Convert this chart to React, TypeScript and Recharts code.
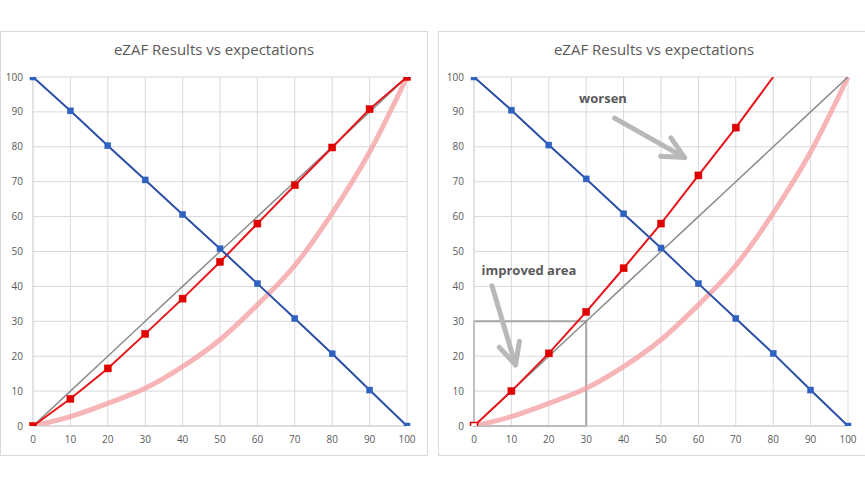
import React from "react"
import {
  LineChart,
  Line,
  XAxis,
  YAxis,
  CartesianGrid,
  ReferenceArea,
  ReferenceLine,
  ReferenceDot,
} from "recharts"

// x positions shared by every series
const X_VALUES = [0, 10, 20, 30, 40, 50, 60, 70, 80, 90, 100]
const X_TICKS = [0, 10, 20, 30, 40, 50, 60, 70, 80, 90, 100]
const Y_TICKS = [0, 10, 20, 30, 40, 50, 60, 70, 80, 90, 100]

// expected (identity) line and the expectation curve, same in both panels
const EXPECTED = [0, 10, 20, 30, 40, 50, 60, 70, 80, 90, 100]
const CURVE = [0, 2.7, 6.5, 10.8, 17, 24.7, 34.7, 46, 61, 78.5, 100]

// left panel
const BLUE_LEFT = [100, 90.3, 80.3, 70.5, 60.6, 50.8, 40.8, 30.8, 20.7, 10.3, 0]
const RED_LEFT = [0, 7.8, 16.5, 26.4, 36.5, 47, 58, 69, 79.8, 90.8, 100]

// right panel
const BLUE_RIGHT = [100, 90.5, 80.5, 70.8, 60.8, 51, 40.8, 30.8, 20.8, 10.3, 0]
const RED_RIGHT = [0, 10, 20.8, 32.7, 45.2, 58, 71.8, 85.5, 100, null, null]

const TITLE = "eZAF Results vs expectations"

const FONT = "'Open Sans', sans-serif"
const TEXT = "#595959"
const GRID = "#d9d9d9"
const BLUE = "#2b4fa8"
const BLUE_MARK = "#2f62c0"
const RED = "#e8141a"
const RED_MARK = "#e00000"
const PINK = "#f5a3a6"
const GREY_LINE = "#8c8c8c"
const ARROW = "#b8b8b8"

const buildRows = (blue: number[], red: (number | null)[]) =>
  X_VALUES.map((x, i) => ({
    x,
    expected: EXPECTED[i],
    curve: CURVE[i],
    blue: blue[i],
    red: red[i],
  }))

const leftRows = buildRows(BLUE_LEFT, RED_LEFT)
const rightRows = buildRows(BLUE_RIGHT, RED_RIGHT)

const squareDot = (size: number, color: string, hideFrom = 99, hollowFirst = false) =>
  (props: any) => {
    const { cx, cy, index } = props
    if (cx == null || cy == null || index >= hideFrom) return <g key={`d-${index}`} />
    const hollow = hollowFirst && index === 0
    return (
      <rect
        key={`d-${index}`}
        x={cx - size / 2}
        y={cy - size / 2}
        width={size}
        height={size}
        fill={hollow ? "#fff" : color}
        stroke={color}
        strokeWidth={hollow ? 1.5 : 0.5}
      />
    )
  }

// thick grey arrow with an open chevron head
const ArrowShape = (props: any) => {
  const { x1, y1, x2, y2 } = props
  if ([x1, y1, x2, y2].some((v) => v == null || isNaN(v))) return <g />
  const ang = Math.atan2(y2 - y1, x2 - x1) + Math.PI
  const len = 24
  const spread = (26 * Math.PI) / 180
  const a1 = { x: x2 + len * Math.cos(ang + spread), y: y2 + len * Math.sin(ang + spread) }
  const a2 = { x: x2 + len * Math.cos(ang - spread), y: y2 + len * Math.sin(ang - spread) }
  return (
    <g stroke={ARROW} strokeWidth={5} strokeLinecap="round" fill="none">
      <line x1={x1} y1={y1} x2={x2} y2={y2} />
      <polyline points={`${a1.x},${a1.y} ${x2},${y2} ${a2.x},${a2.y}`} strokeLinejoin="round" />
    </g>
  )
}

const labelShape = (text: string) => (props: any) => (
  <text
    x={props.cx}
    y={props.cy}
    fill={TEXT}
    fontSize={13}
    fontWeight={700}
    fontFamily={FONT}
  >
    {text}
  </text>
)

const tickStyle = { fill: TEXT, fontSize: 10, fontFamily: FONT }

interface PanelProps {
  rows: any[]
  left: number
  width: number
  marginLeft: number
  marginRight: number
  annotate?: boolean
}

function Panel({ rows, left, width, marginLeft, marginRight, annotate }: PanelProps) {
  return (
    <>
      <div
        style={{
          position: "absolute",
          left,
          top: 31,
          width: width - 2,
          height: 423,
          border: `1px solid ${GRID}`,
        }}
      />
      <div
        style={{
          position: "absolute",
          left,
          top: 39,
          width,
          textAlign: "center",
          fontFamily: FONT,
          fontSize: 15,
          color: TEXT,
        }}
      >
        {TITLE}
      </div>
      <div style={{ position: "absolute", left, top: 32 }}>
        <LineChart
          width={width}
          height={423}
          data={rows}
          margin={{ top: 45, right: marginRight, bottom: 9, left: marginLeft }}
        >
          <CartesianGrid stroke={GRID} strokeWidth={1} />
          <XAxis
            dataKey="x"
            type="number"
            domain={[0, 100]}
            ticks={X_TICKS}
            interval={0}
            height={20}
            tick={tickStyle}
            tickLine={false}
            tickSize={0}
            tickMargin={10}
            axisLine={{ stroke: "#cfcfcf" }}
          />
          <YAxis
            type="number"
            domain={[0, 100]}
            ticks={Y_TICKS}
            interval={0}
            width={28}
            allowDataOverflow
            tick={tickStyle}
            tickLine={false}
            tickSize={0}
            tickMargin={10}
            axisLine={{ stroke: GRID }}
          />
          {annotate && (
            <ReferenceArea
              x1={0}
              x2={30}
              y1={0}
              y2={30}
              fill="none"
              stroke="#a6a6a6"
              strokeWidth={2}
              fillOpacity={0}
            />
          )}
          <Line
            dataKey="curve"
            type="monotone"
            stroke={PINK}
            strokeWidth={5}
            strokeOpacity={0.8}
            dot={false}
            isAnimationActive={false}
          />
          <Line
            dataKey="expected"
            type="linear"
            stroke={GREY_LINE}
            strokeWidth={1.5}
            dot={false}
            isAnimationActive={false}
          />
          <Line
            dataKey="red"
            type="linear"
            stroke={RED}
            strokeWidth={2}
            dot={squareDot(7, RED_MARK, annotate ? 8 : 99, !!annotate)}
            isAnimationActive={false}
          />
          <Line
            dataKey="blue"
            type="linear"
            stroke={BLUE}
            strokeWidth={2}
            dot={squareDot(6, BLUE_MARK)}
            isAnimationActive={false}
          />
          {annotate && (
            <ReferenceLine
              segment={[
                { x: 37.6, y: 88.2 },
                { x: 56.3, y: 76.9 },
              ]}
              shape={ArrowShape}
            />
          )}
          {annotate && (
            <ReferenceLine
              segment={[
                { x: 4.8, y: 40.2 },
                { x: 11.1, y: 17.5 },
              ]}
              shape={ArrowShape}
            />
          )}
          {annotate && <ReferenceDot x={28.1} y={92.5} r={0} shape={labelShape("worsen")} />}
          {annotate && <ReferenceDot x={2} y={43.3} r={0} shape={labelShape("improved area")} />}
        </LineChart>
      </div>
    </>
  )
}

export default function App() {
  return (
    <div
      style={{
        position: "fixed",
        left: 0,
        top: 0,
        width: 865,
        height: 486,
        overflow: "hidden",
        background: "#fff",
      }}
    >
      <Panel rows={leftRows} left={0} width={428} marginLeft={5} marginRight={21} />
      <Panel rows={rightRows} left={438} width={432} marginLeft={8} marginRight={22} annotate />
    </div>
  )
}
